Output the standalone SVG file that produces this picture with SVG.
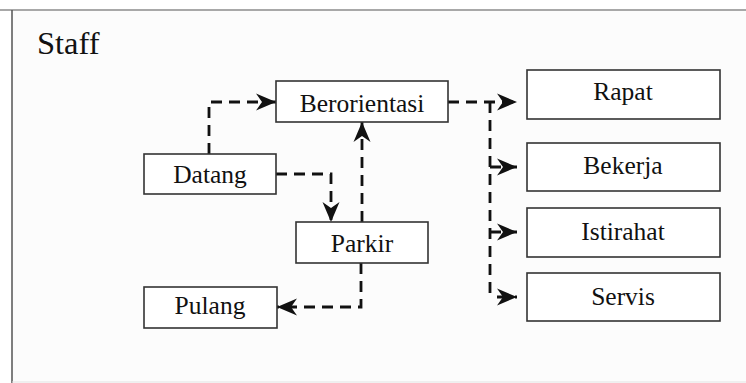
<svg xmlns="http://www.w3.org/2000/svg" width="746" height="383" viewBox="0 0 746 383">
  <style>
    .box { fill: #ffffff; stroke: #333333; stroke-width: 1.6; }
    .lbl { font-family: "Liberation Serif", serif; font-size: 25.5px; fill: #111111; text-anchor: middle; }
    .flow { fill: none; stroke: #111111; stroke-width: 2.8; stroke-dasharray: 11 7; }
  </style>
  <defs>
    <marker id="arrow" markerUnits="userSpaceOnUse" markerWidth="24" markerHeight="20" refX="21" refY="10" orient="auto">
      <path d="M21,10 L1,1.5 L7,10 L1,18.5 Z" fill="#111111"/>
    </marker>
  </defs>

  <!-- frame -->
  <rect x="0" y="0" width="746" height="383" fill="#ffffff"/>
  <rect x="12" y="10" width="734" height="372" fill="#fcfcfc"/>
  <line x1="0" y1="10" x2="746" y2="10" stroke="#a8a8a8" stroke-width="2"/>
  <line x1="12" y1="10" x2="12" y2="383" stroke="#555555" stroke-width="1.5"/>
  <line x1="12" y1="382" x2="746" y2="382" stroke="#e2e2e2" stroke-width="1"/>

  <text x="37" y="54" font-family="Liberation Serif, serif" font-size="32.5" fill="#111111">Staff</text>

  <!-- connectors -->
  <g id="connectors">
    <path class="flow" d="M209,154 V102 H276" marker-end="url(#arrow)"/>
    <path class="flow" d="M276,174 H331 V222" marker-end="url(#arrow)"/>
    <path class="flow" d="M362,222 V122" marker-end="url(#arrow)"/>
    <path class="flow" d="M361,263 V307 H277" marker-end="url(#arrow)"/>
    <path class="flow" d="M448,102 H517" marker-end="url(#arrow)"/>
    <path class="flow" d="M490,102 V297"/>
    <path class="flow" stroke-dasharray="none" d="M490,167 H517" marker-end="url(#arrow)"/>
    <path class="flow" stroke-dasharray="none" d="M490,232 H517" marker-end="url(#arrow)"/>
    <path class="flow" stroke-dasharray="none" d="M497,297 H517" marker-end="url(#arrow)"/>
  </g>

  <!-- nodes -->
  <g id="berorientasi">
    <rect class="box" x="276" y="81" width="172" height="41"/>
    <text class="lbl" x="362" y="112">Berorientasi</text>
  </g>
  <g id="datang">
    <rect class="box" x="144" y="154" width="132" height="40"/>
    <text class="lbl" x="210" y="183">Datang</text>
  </g>
  <g id="parkir">
    <rect class="box" x="296" y="222" width="132" height="41"/>
    <text class="lbl" x="362" y="252">Parkir</text>
  </g>
  <g id="pulang">
    <rect class="box" x="144" y="287" width="133" height="41"/>
    <text class="lbl" x="210" y="314">Pulang</text>
  </g>
  <g id="rapat">
    <rect class="box" x="527" y="70" width="193" height="49"/>
    <text class="lbl" x="623" y="100">Rapat</text>
  </g>
  <g id="bekerja">
    <rect class="box" x="527" y="143" width="193" height="48"/>
    <text class="lbl" x="623" y="174">Bekerja</text>
  </g>
  <g id="istirahat">
    <rect class="box" x="527" y="208" width="193" height="49"/>
    <text class="lbl" x="623" y="240">Istirahat</text>
  </g>
  <g id="servis">
    <rect class="box" x="527" y="273" width="193" height="48"/>
    <text class="lbl" x="623" y="305">Servis</text>
  </g>
</svg>
